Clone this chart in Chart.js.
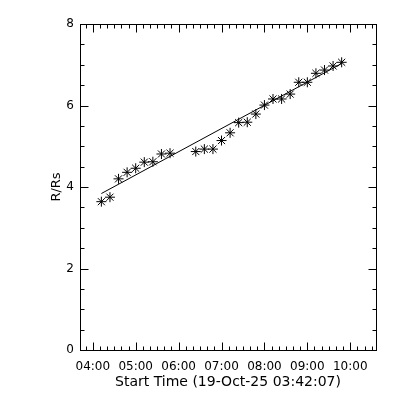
<!DOCTYPE html>
<html>
<head>
<meta charset="utf-8">
<script src="https://cdn.jsdelivr.net/npm/chart.js@4.4.1/dist/chart.umd.min.js"></script>
<style>
  html, body { margin: 0; padding: 0; background: #fff; }
</style>
</head>
<body>
<canvas id="myChart" width="400" height="400"></canvas>
<script>
// axis start = observation start time
const startTime = "03:42:07";
const endTime = "10:36";

// measured heights (R/Rs) at each frame time
const obsTimes = ["04:12", "04:24", "04:36", "04:48", "05:00", "05:12", "05:24", "05:36", "05:48",
                  "06:24", "06:36", "06:48", "07:00", "07:12", "07:24", "07:36", "07:48", "08:00",
                  "08:12", "08:24", "08:36", "08:48", "09:00", "09:12", "09:24", "09:36", "09:48"];
const heights = [3.64, 3.75, 4.20, 4.36, 4.46, 4.61, 4.62, 4.81, 4.83,
                 4.87, 4.93, 4.93, 5.14, 5.33, 5.58, 5.59, 5.79, 6.01,
                 6.16, 6.16, 6.28, 6.57, 6.57, 6.79, 6.87, 6.97, 7.06];

// fitted line, end points
const fitTimes = ["04:12", "09:48"];
const fitHeights = [3.84, 7.03];

const xTickLabels = ["04:00", "05:00", "06:00", "07:00", "08:00", "09:00", "10:00"];
const yTickLabels = [0, 2, 4, 6, 8];

const xTitle = "Start Time (19-Oct-25 03:42:07)";
const yTitle = "R/Rs";

function toHours(s) {
	var p = s.split(':').map(Number);
	return p[0] + (p[1] || 0) / 60 + (p[2] || 0) / 3600;
}

function toHHMM(v) {
	var m = Math.round(v * 60);
	var h = Math.floor(m / 60);
	m = m % 60;
	return String(h).padStart(2, '0') + ':' + String(m).padStart(2, '0');
}

// IDL style box with inward ticks on all four sides
const boxTicks = {
	id: 'boxTicks',
	afterDraw(chart) {
		const ctx = chart.ctx;
		const a = chart.chartArea;
		const x = chart.scales.x, y = chart.scales.y;
		const L = Math.round(a.left) + 0.5, R = Math.round(a.right) + 0.5;
		const T = Math.round(a.top) + 0.5, B = Math.round(a.bottom) + 0.5;
		ctx.save();
		ctx.strokeStyle = '#000';
		ctx.lineWidth = 1;
		ctx.strokeRect(L, T, R - L, B - T);
		ctx.beginPath();
		// x ticks every 10 minutes, major every hour
		for (var m = Math.ceil(x.min * 6); m <= Math.floor(x.max * 6); m++) {
			var px = Math.round(x.getPixelForValue(m / 6)) + 0.5;
			var len = (m % 6 === 0) ? 8 : 4;
			ctx.moveTo(px, B); ctx.lineTo(px, B - len);
			ctx.moveTo(px, T); ctx.lineTo(px, T + len);
		}
		// y ticks every 0.5, major every 2
		for (var k = 0; k <= y.max * 2; k++) {
			var py = Math.round(y.getPixelForValue(k / 2)) + 0.5;
			var l2 = (k % 4 === 0) ? 8 : 4;
			ctx.moveTo(L, py); ctx.lineTo(L + l2, py);
			ctx.moveTo(R, py); ctx.lineTo(R - l2, py);
		}
		ctx.stroke();
		ctx.restore();
	}
};

const points = obsTimes.map((t, i) => ({ x: toHours(t), y: heights[i] }));
const fit = fitTimes.map((t, i) => ({ x: toHours(t), y: fitHeights[i] }));

const tickFont = { family: 'DejaVu Sans', size: 12 };

var myChart = new Chart(document.getElementById('myChart').getContext('2d'), {
	type: 'scatter',
	data: {
		datasets: [{
			data: points,
			pointStyle: 'star',
			pointRadius: 5,
			borderColor: '#000',
			backgroundColor: '#000',
			borderWidth: 1,
			showLine: false
		}, {
			data: fit,
			showLine: true,
			pointRadius: 0,
			borderColor: '#000',
			borderWidth: 1,
			fill: false
		}]
	},
	options: {
		responsive: false,
		animation: false,
		layout: { padding: { left: 0, top: 24, right: 24, bottom: 0 } },
		plugins: {
			legend: { display: false },
			tooltip: { enabled: false }
		},
		scales: {
			x: {
				type: 'linear',
				min: toHours(startTime),
				max: toHours(endTime),
				afterBuildTicks: (s) => { s.ticks = xTickLabels.map(l => ({ value: toHours(l) })); },
				afterFit: (s) => { s.height = 50; },
				grid: { display: false, drawTicks: false },
				border: { display: false },
				ticks: {
					color: '#000',
					font: tickFont,
					padding: 10,
					maxRotation: 0,
					autoSkip: false,
					callback: (v) => toHHMM(v)
				},
				title: {
					display: true,
					text: xTitle,
					color: '#000',
					font: { family: 'DejaVu Sans', size: 14 },
					padding: { top: 0, bottom: 9 }
				}
			},
			y: {
				min: 0,
				max: 8,
				afterBuildTicks: (s) => { s.ticks = yTickLabels.map(v => ({ value: v })); },
				afterFit: (s) => { s.width = 80; },
				grid: { display: false, drawTicks: false },
				border: { display: false },
				ticks: {
					color: '#000',
					font: tickFont,
					padding: 6,
					callback: (v) => String(v)
				},
				title: {
					display: true,
					text: yTitle,
					color: '#000',
					font: { family: 'DejaVu Sans', size: 13 },
					padding: { top: 49, bottom: 0 }
				}
			}
		}
	},
	plugins: [boxTicks]
});
</script>
</body>
</html>
